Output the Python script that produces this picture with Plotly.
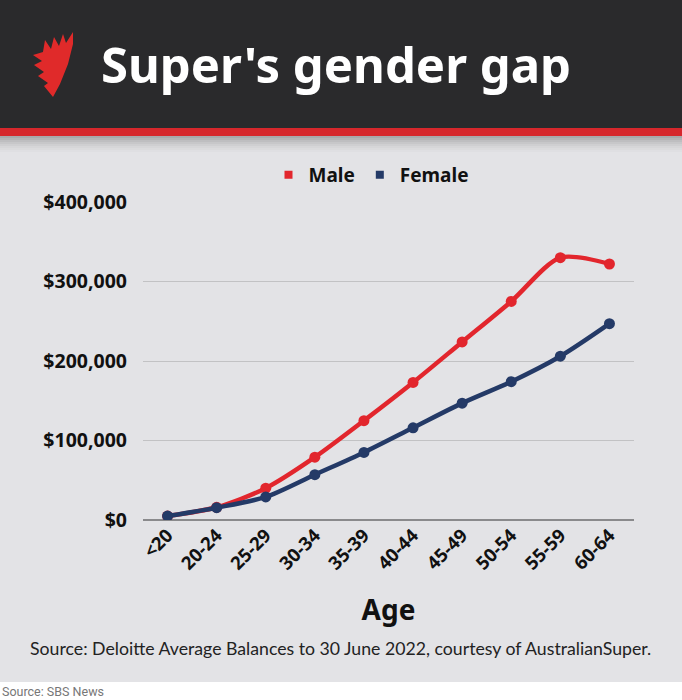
import plotly.graph_objects as go

ages = ["<20", "20-24", "25-29", "30-34", "35-39", "40-44", "45-49", "50-54", "55-59", "60-64"]
male = [5000, 16000, 40000, 79000, 125000, 173000, 224000, 275000, 330000, 322000]
female = [5000, 15500, 29000, 57000, 85000, 116000, 147000, 174000, 206000, 247000]
y_ticks = [0, 100000, 200000, 300000, 400000]
y_labels = ["$0", "$100,000", "$200,000", "$300,000", "$400,000"]

W, H = 682, 700
L, R, T, B = 143, 48, 202, 180
PW, PH = W - L - R, H - T - B

def px(x):
    return (x - L) / PW

def py(y):
    return (H - B - y) / PH

RED = "#e2262d"
NAVY = "#243a67"
BODY = "#e3e3e6"

fig = go.Figure()
fig.add_trace(go.Scatter(x=ages, y=male, mode="lines+markers", name="Male",
                         line=dict(color=RED, width=4.5, shape="spline", smoothing=0.8),
                         marker=dict(size=11, color=RED), showlegend=False))
fig.add_trace(go.Scatter(x=ages, y=female, mode="lines+markers", name="Female",
                         line=dict(color=NAVY, width=4.5, shape="spline", smoothing=0.8),
                         marker=dict(size=11, color=NAVY), showlegend=False))
# legend-only entries with square symbols
fig.add_trace(go.Scatter(x=[None], y=[None], mode="markers", name="<b>Male</b>",
                         marker=dict(symbol="square", size=8, color=RED)))
fig.add_trace(go.Scatter(x=[None], y=[None], mode="markers", name="<b>Female</b>",
                         marker=dict(symbol="square", size=8, color=NAVY)))

shapes = []
def rect(x0, y0, x1, y1, color):
    shapes.append(dict(type="rect", xref="paper", yref="paper", x0=px(x0), x1=px(x1),
                       y0=py(y1), y1=py(y0), fillcolor=color, line=dict(width=0), layer="below"))

rect(0, 0, W, 682, BODY)
rect(0, 0, W, 128, "#2a2a2c")
rect(0, 128, W, 136, "#d6272c")
grad = ["#a9a9ab", "#b4b4b6", "#bebec0", "#c7c7c9", "#cfcfd1", "#d6d6d8", "#dbdbdd", "#dfdfe2"]
for i, c in enumerate(grad):
    rect(0, 136 + i * 2, W, 138 + i * 2, c)

# SBS-like logo
logo = [(73, 32), (73, 44), (68, 64), (60, 84), (53, 97), (44, 86), (48, 83), (38, 76), (44, 72),
        (34, 65), (42, 61), (33, 55), (43, 52), (45, 40), (51, 49), (54, 37), (59, 46), (63, 34), (66, 43)]
path = "M " + " L ".join(f"{px(x):.5f},{py(y):.5f}" for x, y in logo) + " Z"
shapes.append(dict(type="path", xref="paper", yref="paper", path=path,
                   fillcolor="#e02a2a", line=dict(width=0), layer="above"))

annotations = [
    dict(text="<b>Super's gender gap</b>", x=px(99), y=py(64), xref="paper", yref="paper",
         xanchor="left", yanchor="middle", showarrow=False,
         font=dict(family="Noto Sans", size=49, color="white")),
    dict(text="Source: Deloitte Average Balances to 30 June 2022, courtesy of AustralianSuper.",
         x=px(340), y=py(648), xref="paper", yref="paper", xanchor="center", yanchor="middle",
         showarrow=False, font=dict(family="Lato", size=17.7, color="#222222")),
    dict(text="Source: SBS News", x=px(0), y=py(691), xref="paper", yref="paper",
         xanchor="left", yanchor="middle", showarrow=False,
         font=dict(family="Roboto", size=12.5, color="#777777")),
]

fig.update_layout(
    width=W, height=H,
    margin=dict(l=L, r=R, t=T, b=B, pad=0),
    paper_bgcolor="white",
    plot_bgcolor="rgba(0,0,0,0)",
    shapes=shapes,
    annotations=annotations,
    legend=dict(orientation="h", x=px(371), xanchor="center", y=py(175), yanchor="middle",
                font=dict(family="Noto Sans", size=19, color="#111111"),
                bgcolor="rgba(0,0,0,0)", itemwidth=30, tracegroupgap=0),
    xaxis=dict(type="category", range=[-0.5, 9.5], tickangle=-45, showgrid=False,
               showline=False, zeroline=False, ticks="",
               tickvals=ages, ticktext=[f"<b>{a}</b>" for a in ages],
               tickfont=dict(family="Noto Sans", size=18.5, color="#111111"),
               title=dict(text="<b>Age</b>", font=dict(family="Noto Sans", size=28, color="#111111"),
                          standoff=26)),
    yaxis=dict(range=[0, 400000], tickvals=y_ticks, ticktext=[f"<b>{t}</b>" for t in y_labels],
               showgrid=True, gridcolor="#c2c2c4", gridwidth=1, zeroline=True,
               zerolinecolor="#8a8a8c", zerolinewidth=1.5, showline=False, ticks="",
               ticklabelstandoff=15,
               tickfont=dict(family="Noto Sans", size=19.5, color="#111111")),
    font=dict(family="Noto Sans"),
)

fig.write_html("out.html", config={"displayModeBar": False},
               post_script="document.body.style.margin='0';")
